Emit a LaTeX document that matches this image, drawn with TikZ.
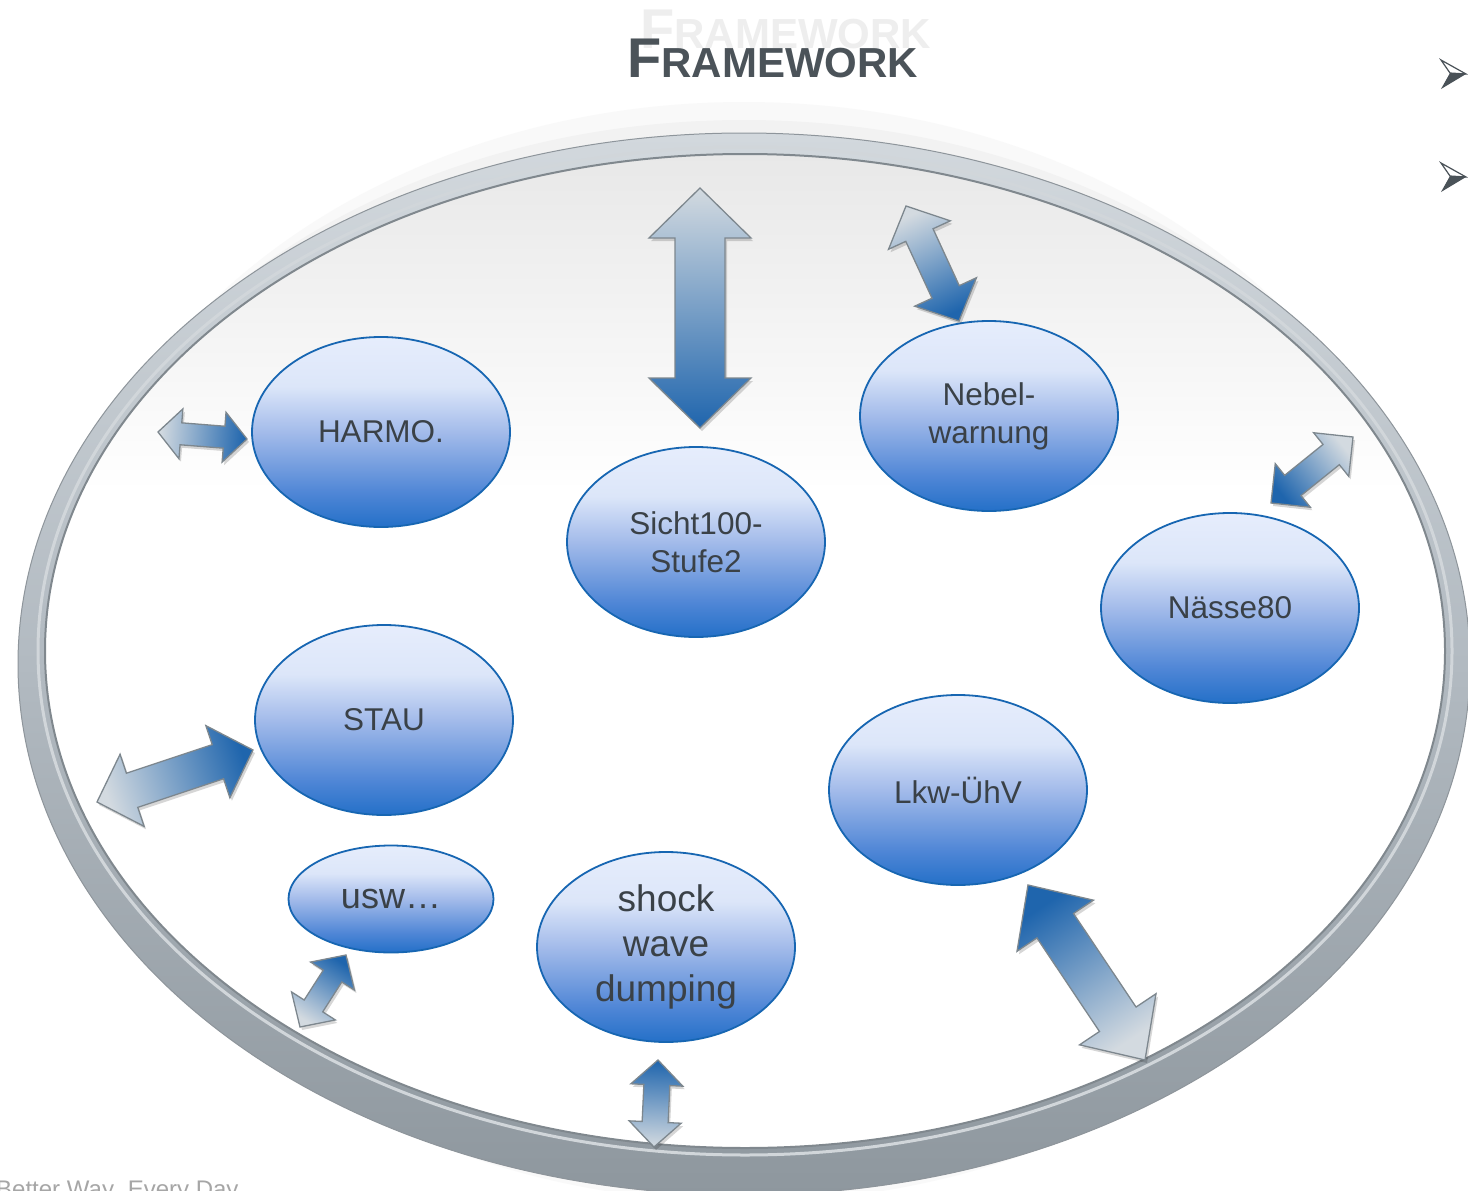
\documentclass[tikz,border=0pt]{standalone}
\usepackage{fontspec}
\setmainfont{Liberation Sans}
\usetikzlibrary{shapes.geometric,calc}
\definecolor{titlec}{HTML}{4B5359}
\definecolor{ghostc}{HTML}{EEEEEE}
\definecolor{txtc}{HTML}{3A4147}
\definecolor{nodeedge}{HTML}{1766B2}
\definecolor{nb0}{HTML}{2470C8}
\definecolor{nb1}{HTML}{4F86D6}
\definecolor{nb2}{HTML}{A3BBEA}
\definecolor{nb3}{HTML}{DCE6F9}
\definecolor{nb4}{HTML}{E6EDFC}
\definecolor{rg0}{HTML}{8E979E}
\definecolor{rg1}{HTML}{B2BAC1}
\definecolor{rg2}{HTML}{D2D8DD}
\definecolor{arrblue}{HTML}{1F65AD}
\definecolor{arrlight}{HTML}{D3DAE0}
\definecolor{arredge}{HTML}{7D878E}
\definecolor{bulletc}{HTML}{4A5258}
\pgfdeclareverticalshading{bubbleshade}{100bp}{color(0bp)=(nb0); color(25bp)=(nb0); color(34bp)=(nb1); color(50bp)=(nb2); color(62bp)=(nb3); color(75bp)=(nb4); color(100bp)=(nb4)}
\pgfdeclareverticalshading{ringshade}{100bp}{color(0bp)=(rg0); color(25bp)=(rg0); color(50bp)=(rg1); color(75bp)=(rg2); color(100bp)=(rg2)}
\pgfdeclareverticalshading{innerfade}{100bp}{color(0bp)=(white); color(58bp)=(white); color(75bp)=(black!9); color(100bp)=(black!9)}
\newcommand\blockarrow[5]{%
  \coordinate (ba1) at ($(#1)!#3pt!(#2)$);
  \coordinate (ba2) at ($(#2)!#3pt!(#1)$);
  \path let \p1=(#1), \p2=(#2), \n1={atan2(\y2-\y1,\x2-\x1)-90} in \pgfextra{\xdef\baang{\n1}};
  \def\bapath{(#1) -- ($(ba1)!#4pt!90:(#2)$) -- ($(ba1)!#5pt!90:(#2)$) -- ($(ba2)!#5pt!-90:(#1)$) -- ($(ba2)!#4pt!-90:(#1)$) -- (#2) -- ($(ba2)!#4pt!90:(#1)$) -- ($(ba2)!#5pt!90:(#1)$) -- ($(ba1)!#5pt!-90:(#2)$) -- ($(ba1)!#4pt!-90:(#2)$) -- cycle}%
  \fill[black, opacity=.16, transform canvas={shift={(2pt,-3pt)}}] \bapath;
  \shade[draw=arredge, line width=1.3pt, line join=miter, top color=arrblue, bottom color=arrlight, shading angle=\baang] \bapath;
}
\tikzset{
  bubble/.style={ellipse, draw=nodeedge, line width=1.8pt, shading=bubbleshade,
    minimum width=258pt, minimum height=190pt, inner sep=0pt, align=center,
    text=txtc, font=\fontsize{31.5}{38}\selectfont}
}
\begin{document}
\begin{tikzpicture}[x=1pt,y=-1pt]
\useasboundingbox (0,0) rectangle (1468,1191);
\clip (0,0) rectangle (1468,1191);
\fill[white] (0,0) rectangle (1468,1191);
% ghost title
\node[anchor=base west, inner sep=0pt, text=ghostc, font=\bfseries] (ghost) at (640,48)
  {\fontsize{56}{56}\selectfont F\fontsize{42}{42}\selectfont RAMEWORK};
% halo above ring
\fill[black!2.5] (744,652) ellipse [x radius=690, y radius=550];
\fill[black!5] (744,658) ellipse [x radius=705, y radius=538];
% ring
\shade[even odd rule, shading=ringshade] (744,664) ellipse [x radius=726, y radius=531]
  (745,651) ellipse [x radius=700, y radius=497];
\draw[rg1!80!black, line width=1pt] (744,664) ellipse [x radius=726, y radius=531];
\shade[shading=innerfade] (745,651) ellipse [x radius=700, y radius=497];
\draw[rg0!90!black, line width=2pt] (745,651) ellipse [x radius=700, y radius=497];
\draw[rg1!60!white, line width=3pt] (745,651) ellipse [x radius=707, y radius=504];
% main title
\node[anchor=base west, inner sep=0pt, text=titlec, font=\bfseries] (title) at (627,77)
  {\fontsize{56}{56}\selectfont F\fontsize{42}{42}\selectfont RAMEWORK};
% bullets
\coordinate (b1tl) at (1441,60); \coordinate (b1tip) at (1466,74);
\coordinate (b1n) at (1450,73); \coordinate (b1bl) at (1441,89);
\coordinate (b2tl) at (1441,163); \coordinate (b2tip) at (1466,177);
\coordinate (b2n) at (1450,176); \coordinate (b2bl) at (1441,192);
\draw[bulletc, line width=1.2pt, line join=miter] (b1tl) -- (b1tip) -- (b1n) -- cycle;
\fill[bulletc] (b1n) -- (b1tip) -- (b1bl) -- cycle;
\draw[bulletc, line width=1.2pt, line join=miter] (b2tl) -- (b2tip) -- (b2n) -- cycle;
\fill[bulletc] (b2n) -- (b2tip) -- (b2bl) -- cycle;
% tagline
\node[anchor=base west, inner sep=0pt, text=black!35, font=\fontsize{24}{24}\selectfont] (tag) at (-4,1197) {Better Way. Every Day};
% nodes
\node[bubble] (harmo) at (381,432) {HARMO.};
\node[bubble] (sicht) at (696,542) {Sicht100-\\Stufe2};
\node[bubble] (nebel) at (989,416) {Nebel-\\warnung};
\node[bubble] (naesse) at (1230,608) {Nässe80};
\node[bubble] (stau) at (384,720) {STAU};
\node[bubble] (lkw) at (958,790) {Lkw-ÜhV};
\node[bubble, minimum width=205pt, minimum height=107pt, font=\fontsize{36}{44}\selectfont] (usw) at (391,899) {usw…};
\node[bubble, font=\fontsize{37}{45}\selectfont] (shock) at (666,947) {shock\\wave\\dumping};
% arrow end points
\coordinate (a1l) at (158,432); \coordinate (a1b) at (247,439);
\coordinate (a2l) at (700,188); \coordinate (a2b) at (700,428);
\coordinate (a3l) at (906,206); \coordinate (a3b) at (959,321);
\coordinate (a4l) at (1353,437); \coordinate (a4b) at (1271,503);
\coordinate (a5l) at (97,802); \coordinate (a5b) at (253,750);
\coordinate (a6l) at (1145,1060); \coordinate (a6b) at (1028,885);
\coordinate (a7l) at (300,1027); \coordinate (a7b) at (346,955);
\coordinate (a8l) at (654,1147); \coordinate (a8b) at (658,1060);
\blockarrow{a1l}{a1b}{23}{25}{11}
\blockarrow{a2l}{a2b}{50}{51}{25}
\blockarrow{a3l}{a3b}{32}{34}{15}
\blockarrow{a4l}{a4b}{28}{28}{13}
\blockarrow{a5l}{a5b}{37}{38}{18}
\blockarrow{a6l}{a6b}{49}{46}{22}
\blockarrow{a7l}{a7b}{25}{26}{11}
\blockarrow{a8l}{a8b}{25}{26}{13}
\end{tikzpicture}
\end{document}
